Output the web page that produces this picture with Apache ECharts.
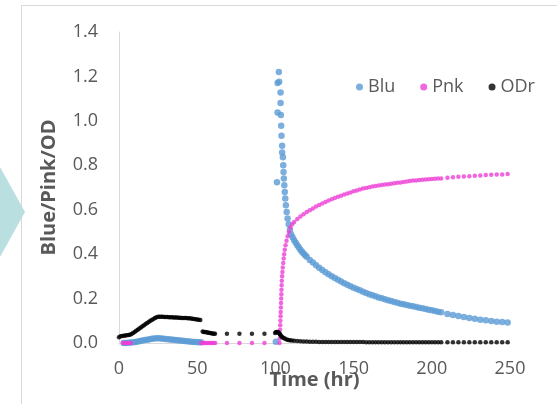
<!DOCTYPE html>
<html>
<head>
<meta charset="utf-8">
<script src="https://cdn.jsdelivr.net/npm/echarts@6/dist/echarts.min.js"></script>
<style>html,body{margin:0;padding:0;background:#fff;}#c{width:557px;height:404px;}</style>
</head>
<body>
<div id="c"></div>
<script>
// ---- data (time in hr, value) ----
var seriesNames = ['Blu', 'Pnk', 'ODr'];
var xTicks = [0, 50, 100, 150, 200, 250];
var yTicks = [0, 0.2, 0.4, 0.6, 0.8, 1.0, 1.2, 1.4];

var bluEarlyT = [3,4.5,6,7.5,9,10.5,12,13.5,15,16.5,18,19.5,21,22.5,24,25.5,27,28.5,30,31.5,33,34.5,36,37.5,39,40.5,42,43.5,45,46.5,48,49.5,51,52.5];
var bluEarlyV = [0,0,0.001,0.002,0.003,0.005,0.007,0.009,0.011,0.013,0.015,0.017,0.019,0.02,0.021,0.021,0.02,0.019,0.018,0.017,0.016,0.015,0.014,0.012,0.011,0.01,0.009,0.008,0.007,0.006,0.005,0.004,0.003,0.003];
var bluLateT = [100.3,101.0,101.4,101.4,102.2,102.4,103.3,103.3,103.5,103.7,103.9,104.3,104.3,104.8,105.0,105.2,105.4,105.7,106.0,106.3,106.7,107.2,107.8,108.5,109.3,110,111,112,113,114,115,116,117,118,119,120,122,124,126,128,130,132,134,136,138,140,142,144,146,148,150,152,154,156,158,160,162,164,166,168,170,172,174,176,178,180,182,184,186,188,190,192,194,196,198,200,202,204,206,210,213.5,217,220.5,224,227.5,231,234.5,238,241.5,245,248.5];
var bluLateV = [0.006,0.724,1.17,1.038,1.22,1.176,1.128,1.08,1.026,0.978,0.933,0.888,0.858,0.836,0.80,0.77,0.74,0.71,0.68,0.65,0.62,0.59,0.56,0.535,0.51,0.49,0.476,0.463,0.451,0.44,0.43,0.42,0.411,0.403,0.395,0.388,0.374,0.362,0.35,0.339,0.329,0.319,0.31,0.301,0.293,0.285,0.277,0.269,0.262,0.255,0.249,0.243,0.237,0.231,0.225,0.22,0.215,0.21,0.205,0.201,0.197,0.193,0.189,0.185,0.181,0.177,0.174,0.171,0.168,0.165,0.162,0.159,0.156,0.153,0.15,0.147,0.144,0.141,0.138,0.131,0.126,0.121,0.117,0.113,0.109,0.105,0.102,0.099,0.096,0.094,0.092];

var pnkEarlyT = [2.5,3.5,4.5,5.5,6.5,7.5,52.5,53.5,54.5,55.5,56.5,57.5,58.5,59.5,60.5,61.5,69,77,85,93];
var pnkEarlyV = [0,0,0,0,0,0,0,0,0,0,0,0,0,0,0,0,0,0,0,0];
var pnkLateT = [102.6,102.8,102.9,103.0,103.1,103.2,103.3,103.4,103.5,103.6,103.7,103.8,103.9,104.0,104.1,104.3,104.5,104.7,105.0,105.3,105.6,106.0,106.5,107.1,107.8,108.6,109.6,110.8,112,114,116,118,120,122,124,126,128,130,132,134,136,138,140,142,144,146,148,150,152,154,156,158,160,162,164,166,168,170,172,174,176,178,180,182,184,186,188,190,192,194,196,198,200,202,204,206,210,213.5,217,220.5,224,227.5,231,234.5,238,241.5,245,248.5];
var pnkLateV = [0,0.02,0.04,0.06,0.08,0.10,0.12,0.14,0.16,0.18,0.20,0.22,0.24,0.26,0.28,0.30,0.32,0.34,0.36,0.38,0.40,0.42,0.44,0.46,0.48,0.50,0.52,0.535,0.545,0.558,0.57,0.58,0.59,0.598,0.606,0.614,0.621,0.628,0.635,0.641,0.647,0.653,0.658,0.663,0.668,0.673,0.678,0.683,0.687,0.691,0.695,0.698,0.701,0.704,0.707,0.709,0.711,0.713,0.715,0.717,0.719,0.721,0.723,0.725,0.727,0.729,0.731,0.732,0.734,0.735,0.736,0.737,0.738,0.739,0.740,0.741,0.744,0.746,0.748,0.750,0.751,0.753,0.754,0.756,0.757,0.758,0.759,0.761];

var odrEarlyT = [0,1,2,3,4,5,6,7,8,9,10,11,12,13,14,15,16,17,18,19,20,21,22,23,24,25,26,27,28,29,30,31,32,33,34,35,36,37,38,39,40,41,42,43,44,45,46,47,48,49,50,51,52,53.5,54.2,55,55.8,56.6,57.4,58.2,59,59.8,60.6,61.4,69,77,85,93];
var odrEarlyV = [0.026,0.03,0.032,0.033,0.034,0.035,0.036,0.037,0.04,0.045,0.05,0.055,0.06,0.065,0.07,0.075,0.08,0.085,0.09,0.095,0.1,0.104,0.108,0.112,0.116,0.118,0.118,0.118,0.118,0.117,0.117,0.117,0.116,0.116,0.116,0.115,0.115,0.115,0.114,0.114,0.113,0.113,0.112,0.112,0.111,0.111,0.11,0.109,0.108,0.107,0.106,0.105,0.104,0.052,0.05,0.049,0.048,0.047,0.046,0.045,0.044,0.043,0.042,0.042,0.042,0.042,0.042,0.042];
var odrLateT = [99.8,100.3,100.8,101.3,101.8,102.3,102.8,103.3,103.8,104.5,105.3,106.2,107.2,108.2,109.3,110.5,112,114,116,118,120,122,124,126,128,130,132,134,136,138,140,142,144,146,148,150,152,154,156,158,160,162,164,166,168,170,172,174,176,178,180,182,184,186,188,190,192,194,196,198,200,202,204,206,210,213.5,217,220.5,224,227.5,231,234.5,238,241.5,245,248.5];
var odrLateV = [0.045,0.048,0.05,0.05,0.048,0.045,0.04,0.035,0.03,0.026,0.022,0.019,0.016,0.014,0.012,0.011,0.01,0.009,0.008,0.007,0.007,0.006,0.006,0.006,0.005,0.005,0.005,0.005,0.005,0.004,0.004,0.004,0.004,0.004,0.004,0.004,0.004,0.004,0.004,0.003,0.003,0.003,0.003,0.003,0.003,0.003,0.003,0.003,0.003,0.003,0.003,0.003,0.003,0.003,0.003,0.003,0.003,0.003,0.003,0.003,0.003,0.003,0.003,0.003,0.003,0.003,0.003,0.003,0.003,0.003,0.003,0.003,0.003,0.003,0.003,0.003];

function pairs(ts, vs) { return ts.map(function (t, i) { return [t, vs[i]]; }); }
var bluData = pairs(bluEarlyT, bluEarlyV).concat(pairs(bluLateT, bluLateV));
var pnkData = pairs(pnkEarlyT, pnkEarlyV).concat(pairs(pnkLateT, pnkLateV));
var odrData = pairs(odrEarlyT, odrEarlyV).concat(pairs(odrLateT, odrLateV));

var FONT = '"Open Sans", sans-serif';
var chart = echarts.init(document.getElementById('c'), null, { renderer: 'canvas' });
chart.setOption({
  animation: false,
  backgroundColor: '#ffffff',
  textStyle: { fontFamily: FONT },
  graphic: [
    { type: 'line', shape: { x1: 21.5, y1: 5.5, x2: 557, y2: 5.5 }, style: { stroke: '#d9d9d9', lineWidth: 1 } },
    { type: 'line', shape: { x1: 21.5, y1: 5.5, x2: 21.5, y2: 404 }, style: { stroke: '#d9d9d9', lineWidth: 1 } },
    { type: 'polygon', shape: { points: [[0, 167], [25, 212], [0, 257]] }, style: { fill: '#b9dfe0' } }
  ],
  grid: { left: 119, right: 47, top: 32, bottom: 61, containLabel: false, outerBoundsMode: 'none' },
  legend: {
    data: seriesNames,
    left: 351, top: 73,
    icon: 'circle', itemWidth: 7, itemHeight: 7, itemGap: 25,
    textStyle: { fontFamily: FONT, fontSize: 18, color: '#595959' }
  },
  xAxis: {
    type: 'value', min: xTicks[0], max: xTicks[xTicks.length - 1], interval: 50,
    name: 'Time (hr)', nameLocation: 'middle', nameGap: 27, nameMoveOverlap: false,
    nameTextStyle: { fontFamily: FONT, fontSize: 20, fontWeight: 'bold', color: '#595959' },
    axisLine: { show: true, lineStyle: { color: '#d9d9d9', width: 1 } },
    axisTick: { show: false },
    splitLine: { show: false },
    axisLabel: { margin: 17, fontFamily: FONT, fontSize: 18, color: '#595959' }
  },
  yAxis: {
    type: 'value', min: yTicks[0], max: yTicks[yTicks.length - 1], interval: 0.2,
    name: 'Blue/Pink/OD', nameLocation: 'middle', nameGap: 60, nameMoveOverlap: false,
    nameTextStyle: { fontFamily: FONT, fontSize: 20, fontWeight: 'bold', color: '#595959' },
    axisLine: { show: true, lineStyle: { color: '#d9d9d9', width: 1 } },
    axisTick: { show: false },
    splitLine: { show: false },
    axisLabel: { margin: 21, fontFamily: FONT, fontSize: 18, color: '#595959', formatter: function (v) { return v.toFixed(1); } }
  },
  series: [
    { name: seriesNames[0], type: 'scatter', data: bluData, symbolSize: 6.5, itemStyle: { color: '#5b9bd5' } },
    { name: seriesNames[1], type: 'scatter', data: pnkData, symbolSize: 4.5, itemStyle: { color: '#ee3fd6' } },
    { name: seriesNames[2], type: 'scatter', data: odrData, symbolSize: 4.5, itemStyle: { color: '#000000' } }
  ]
});
</script>
</body>
</html>
